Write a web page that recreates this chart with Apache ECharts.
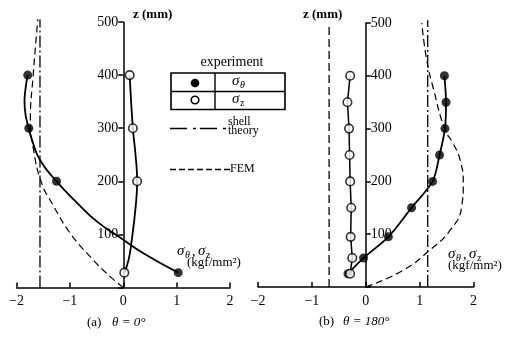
<!DOCTYPE html>
<html>
<head>
<meta charset="utf-8">
<script src="https://cdn.jsdelivr.net/npm/echarts@6/dist/echarts.min.js"></script>
<style>
html, body { margin: 0; padding: 0; background: #fff; }
#chart { width: 508px; height: 339px; }
</style>
</head>
<body>
<div id="chart"></div>
<script>
// ---- (a) theta = 0 deg ----
// measured points: height z (mm), stresses (kgf/mm^2)
const zA = [400, 300, 200, 28];
const sThetaA = [-1.79, -1.77, -1.25, 1.03];
const sZA = [0.12, 0.18, 0.26, 0.02];
// faired curve through the sigma-theta points
const curveThetaA_z = [400, 375, 350, 325, 300, 278, 240, 200, 160, 124, 94, 63, 28];
const curveThetaA_s = [-1.79, -1.83, -1.85, -1.83, -1.77, -1.71, -1.56, -1.25, -0.87, -0.49, -0.06, 0.40, 1.03];
// faired curve through the sigma-z points
const curveZA_z = [400, 300, 250, 200, 150, 90, 52, 28];
const curveZA_s = [0.12, 0.18, 0.23, 0.26, 0.23, 0.16, 0.10, 0.02];
// FEM result
const femA_z = [0, 21, 58, 103, 156, 197, 259, 316, 397, 505];
const femA_s = [0, -0.25, -0.62, -1.00, -1.32, -1.53, -1.68, -1.74, -1.69, -1.60];
// shell theory
const shellA_z = [0, 505];
const shellA_s = [-1.56, -1.56];

// ---- (b) theta = 180 deg ----
const zB = [400, 350, 300, 250, 200, 150, 95, 55, 25];
const sThetaB = [1.46, 1.49, 1.47, 1.37, 1.24, 0.85, 0.42, -0.04, -0.33];
const sZB = [-0.29, -0.34, -0.31, -0.30, -0.29, -0.27, -0.28, -0.25, -0.29];
const femB_z = [0, 32, 70, 108, 152, 197, 241, 272, 298, 374, 431, 500];
const femB_s = [0, 0.70, 1.19, 1.57, 1.78, 1.81, 1.75, 1.62, 1.47, 1.26, 1.13, 1.04];
const shellThetaB_z = [0, 505];
const shellThetaB_s = [1.15, 1.15];
const shellZB_z = [0, 500];
const shellZB_s = [-0.68, -0.68];

// axis ticks
const stressTicks = [-2, -1, 0, 1, 2];
const heightTicks = [0, 100, 200, 300, 400, 500];

const SERIF = '"Liberation Serif", "DejaVu Serif", serif';
const pairs = (s, z) => s.map((v, i) => [v, z[i]]);
const minus = v => String(v).replace('-', '\u2212');

// plot frames: each panel's z axis stands at stress = 0
const PANEL = [
  { left: 16.5, top: 22, width: 213.5, height: 265.5 },
  { left: 258, top: 23, width: 215.5, height: 264 }
];
const zeroX = p => p.left + p.width * (0 - stressTicks[0]) / (stressTicks[stressTicks.length - 1] - stressTicks[0]);

function xAxisFor(grid) {
  return {
    type: 'value', gridIndex: grid,
    min: stressTicks[0], max: stressTicks[stressTicks.length - 1], interval: 1,
    axisLine: { onZero: false, lineStyle: { color: '#000', width: 1.5 } },
    axisTick: { inside: true, length: 5, lineStyle: { color: '#000', width: 1.5 } },
    axisLabel: { color: '#000', fontFamily: SERIF, fontSize: 14, margin: 7, formatter: minus },
    splitLine: { show: false }
  };
}
function yAxisFor(grid, pos, visible) {
  return {
    type: 'value', gridIndex: grid, position: pos, show: visible,
    min: heightTicks[0], max: heightTicks[heightTicks.length - 1], interval: 100,
    axisLine: { onZero: false, lineStyle: { color: '#000', width: 1.5 } },
    axisTick: { length: 5, lineStyle: { color: '#000', width: 1.5 } },
    axisLabel: { color: '#000', fontFamily: SERIF, fontSize: 14, margin: 5,
                 formatter: v => (v === 0 ? '' : String(v)) },
    splitLine: { show: false }
  };
}
function curve(grid, s, z, type, width, smooth) {
  return {
    type: 'line', xAxisIndex: grid, yAxisIndex: grid,
    data: pairs(s, z), showSymbol: false, smooth: smooth, clip: false,
    lineStyle: { color: '#000', width: width, type: type },
    z: 2, silent: true
  };
}
function dots(grid, s, z, filled, zl) {
  return {
    type: 'scatter', xAxisIndex: grid, yAxisIndex: grid,
    data: pairs(s, z), symbol: 'circle', symbolSize: filled ? 9 : 8.5,
    itemStyle: filled ? { color: '#000' } : { color: '#fff', borderColor: '#000', borderWidth: 1.6 },
    z: zl, silent: true
  };
}

const DASH = [7, 4];
const DASHDOT = [12, 3, 2, 3];

// text helpers
function txt(x, y, s, size, opts) {
  opts = opts || {};
  return { type: 'text', x: x, y: y, silent: true, style: {
    text: s, fill: '#000',
    font: (opts.style || 'normal') + ' ' + (opts.weight || 'normal') + ' ' + size + 'px ' + SERIF,
    textAlign: opts.align || 'left', align: opts.align || 'left',
    textVerticalAlign: 'middle', verticalAlign: 'middle'
  } };
}
// sigma with a subscript
function sigma(x, y, sub) {
  return [
    txt(x, y, '\u03c3', 15, { style: 'italic' }),
    txt(x + 8, y + 4, sub, 10, { style: sub === '\u03b8' ? 'italic' : 'normal' })
  ];
}
function quantityLabel(x, y, unitShift) {
  return [].concat(
    sigma(x, y, '\u03b8'),
    [txt(x + 15, y + 1, ',', 14)],
    sigma(x + 21, y, 'z'),
    [txt(x + unitShift, y + 12, '(kgf/mm\u00b2)', 13)]
  );
}

const graphics = [].concat(
  [txt(133, 15, 'z (mm)', 13, { weight: 'bold' }),
   txt(303, 15, 'z (mm)', 13, { weight: 'bold' })],
  // key
  [txt(232, 62, 'experiment', 14, { align: 'center' }),
   { type: 'rect', shape: { x: 171, y: 73, width: 114, height: 36.5 }, silent: true,
     style: { fill: 'none', stroke: '#000', lineWidth: 1.6 } },
   { type: 'line', shape: { x1: 171, y1: 91.5, x2: 285, y2: 91.5 }, silent: true,
     style: { stroke: '#000', lineWidth: 1.4 } },
   { type: 'line', shape: { x1: 215, y1: 73, x2: 215, y2: 109.5 }, silent: true,
     style: { stroke: '#000', lineWidth: 1.4 } },
   { type: 'circle', shape: { cx: 195, cy: 83, r: 4.3 }, silent: true, style: { fill: '#000' } },
   { type: 'circle', shape: { cx: 195, cy: 100, r: 3.8 }, silent: true,
     style: { fill: '#fff', stroke: '#000', lineWidth: 1.6 } }],
  sigma(232, 81, '\u03b8'),
  sigma(232, 99, 'z'),
  [{ type: 'line', shape: { x1: 170, y1: 128.5, x2: 227, y2: 128.5 }, silent: true,
     style: { stroke: '#000', lineWidth: 1.4, lineDash: [17, 6, 3, 4] } },
   txt(228, 122, 'shell', 12),
   txt(228, 131, 'theory', 12),
   { type: 'line', shape: { x1: 170, y1: 169.5, x2: 230, y2: 169.5 }, silent: true,
     style: { stroke: '#000', lineWidth: 1.3, lineDash: [6, 3] } },
   txt(230, 169, 'FEM', 12)],
  quantityLabel(177, 251, 10),
  quantityLabel(448, 254, 0),
  [txt(87, 323, '(a)', 13), txt(112, 323, '\u03b8 = 0\u00b0', 13, { style: 'italic' }),
   txt(319, 322, '(b)', 13), txt(343, 322, '\u03b8 = 180\u00b0', 13, { style: 'italic' })]
);

// grids 2 and 3 only carry the visible z axes, placed on the stress = 0 line
const zAxisGridA = { left: zeroX(PANEL[0]), top: PANEL[0].top, width: 60, height: PANEL[0].height };
const zAxisGridB = { left: zeroX(PANEL[1]) - 60, top: PANEL[1].top, width: 60, height: PANEL[1].height };
const hiddenX = g => ({ type: 'value', gridIndex: g, show: false, min: 0, max: 1 });

const chart = echarts.init(document.getElementById('chart'), null, { renderer: 'canvas' });
chart.setOption({
  animation: false,
  backgroundColor: '#fff',
  grid: [PANEL[0], PANEL[1], zAxisGridA, zAxisGridB].map(g => Object.assign(
    { containLabel: false, outerBoundsMode: 'none' }, g)),
  xAxis: [xAxisFor(0), xAxisFor(1), hiddenX(2), hiddenX(3)],
  yAxis: [yAxisFor(0, 'left', false), yAxisFor(1, 'right', false),
          yAxisFor(2, 'left', true), yAxisFor(3, 'right', true)],
  series: [
    // (a)
    curve(0, shellA_s, shellA_z, DASHDOT, 1.3, false),
    curve(0, femA_s, femA_z, DASH, 1.2, true),
    curve(0, curveThetaA_s, curveThetaA_z, 'solid', 1.8, true),
    curve(0, curveZA_s, curveZA_z, 'solid', 1.8, true),
    dots(0, sThetaA, zA, true, 5),
    dots(0, sZA, zA, false, 6),
    // (b)
    curve(1, shellThetaB_s, shellThetaB_z, DASHDOT, 1.3, false),
    curve(1, shellZB_s, shellZB_z, [8, 4], 1.3, false),
    curve(1, femB_s, femB_z, DASH, 1.2, true),
    curve(1, sThetaB, zB, 'solid', 1.8, 0.3),
    curve(1, sZB, zB, 'solid', 1.5, false),
    dots(1, sThetaB, zB, true, 5),
    dots(1, sZB, zB, false, 6)
  ],
  graphic: { elements: graphics }
});
</script>
</body>
</html>
